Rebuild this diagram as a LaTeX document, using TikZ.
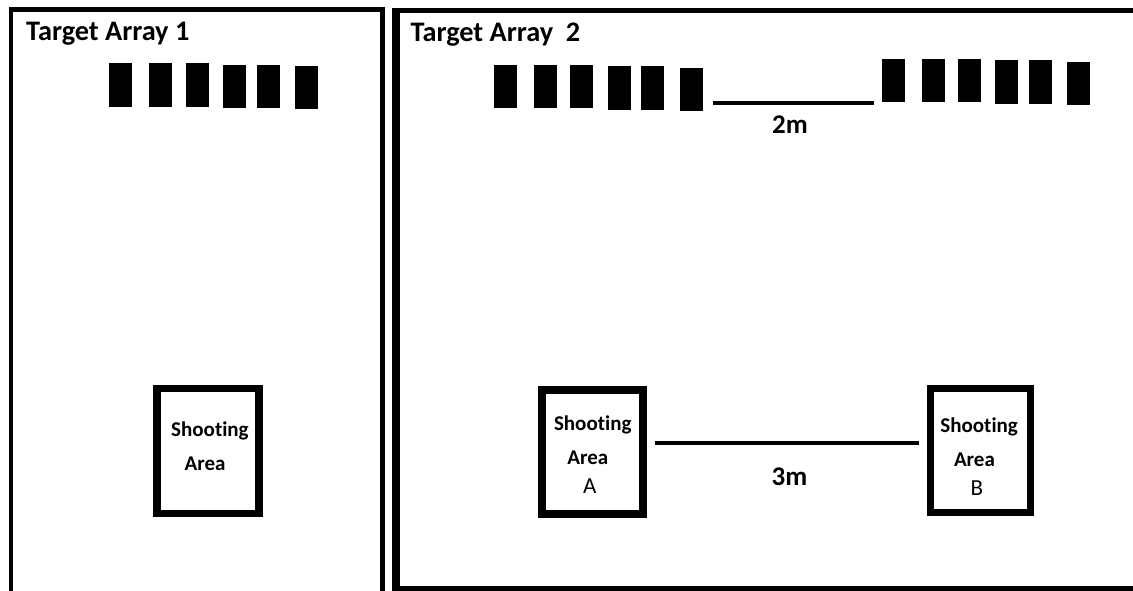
\documentclass[tikz,border=0pt]{standalone}
\usepackage{fontspec}
\setmainfont[Ligatures={NoCommon}]{Carlito}
\begin{document}
\begin{tikzpicture}[x=1pt,y=-1pt,
  target/.style={fill=black,draw=none,minimum width=23pt,minimum height=43.5pt,inner sep=0pt,outer sep=0pt},
  areabox/.style={draw=black,line width=7.5pt,fill=none,inner sep=0pt,outer sep=0pt},
  title/.style={font=\fontsize{28.3}{32}\selectfont\bfseries,anchor=base west,inner sep=0pt},
  lbl/.style={font=\fontsize{21}{25}\selectfont\bfseries,anchor=base west,inner sep=0pt},
  lblr/.style={font=\fontsize{23}{27}\selectfont,anchor=base west,inner sep=0pt},
  dist/.style={font=\fontsize{27}{32}\selectfont\bfseries,anchor=base,inner sep=0pt},
  panel/.style={draw=black,line width=4.5pt},
  gap/.style={draw=black,line width=4.5pt}]
\useasboundingbox (0,0) rectangle (1133,590);
\clip (0,0) rectangle (1133,590);
\fill[white] (0,0) rectangle (1133,590);

% panels
\draw[panel] (11.2,600) -- (11.2,9.5) -- (382.6,9.5) -- (382.6,600);
\draw[panel,line width=5pt] (396.3,10.6) rectangle (1145,588.5);
\draw[line width=7.5pt] (396.2,8) -- (396.2,591);

% titles
\node[title] (t1) at (26,40) {Target Array 1};
\node[title] (t2) at (410.5,41.5) {Target Array\ \ 2};

% target array 1
\node[target] (a1) at (120.8,85) {};
\node[target] (a2) at (160.8,85) {};
\node[target] (a3) at (197.2,85) {};
\node[target] (a4) at (234.8,86.3) {};
\node[target] (a5) at (268.2,86.3) {};
\node[target] (a6) at (306.8,87.5) {};

% target array 2, left group
\node[target] (b1) at (505,86.7) {};
\node[target] (b2) at (545.7,86.7) {};
\node[target] (b3) at (581.8,86.7) {};
\node[target] (b4) at (619.2,87.8) {};
\node[target] (b5) at (652.2,87.8) {};
\node[target] (b6) at (691.2,89.3) {};

% target array 2, right group
\node[target] (c1) at (893,80.7) {};
\node[target] (c2) at (933.3,80.7) {};
\node[target] (c3) at (969.3,80.7) {};
\node[target] (c4) at (1006.8,82) {};
\node[target] (c5) at (1040,82) {};
\node[target] (c6) at (1078.8,83.7) {};

% 2m gap
\coordinate (g2a) at (712.7,102.8);
\coordinate (g2b) at (874.3,102.8);
\draw[gap] (g2a) -- (g2b);
\node[dist] (d2) at (790,133.5) {2m};

% shooting areas
\node[areabox,minimum width=102pt,minimum height=125pt] (s0) at (208,451.2) {};
\node[lbl] (s0t1) at (171,436.7) {Shooting};
\node[lbl] (s0t2) at (184.5,470) {Area};

\node[areabox,minimum width=101pt,minimum height=124.3pt] (sA) at (592.5,451.9) {};
\node[lbl] (sAt1) at (553.8,430) {Shooting};
\node[lbl] (sAt2) at (567.2,464) {Area};
\node[lblr] (sAt3) at (583,493.5) {A};

\node[areabox,line width=7pt,minimum width=100.6pt,minimum height=124pt] (sB) at (980.5,450.5) {};
\node[lbl] (sBt1) at (940.2,432.7) {Shooting};
\node[lbl] (sBt2) at (953.8,466) {Area};
\node[lblr] (sBt3) at (970.5,495.5) {B};

% 3m gap
\coordinate (g3a) at (655,443);
\coordinate (g3b) at (918.5,443);
\draw[gap] (g3a) -- (g3b);
\node[dist] (d3) at (789.5,485.5) {3m};
\end{tikzpicture}
\end{document}
